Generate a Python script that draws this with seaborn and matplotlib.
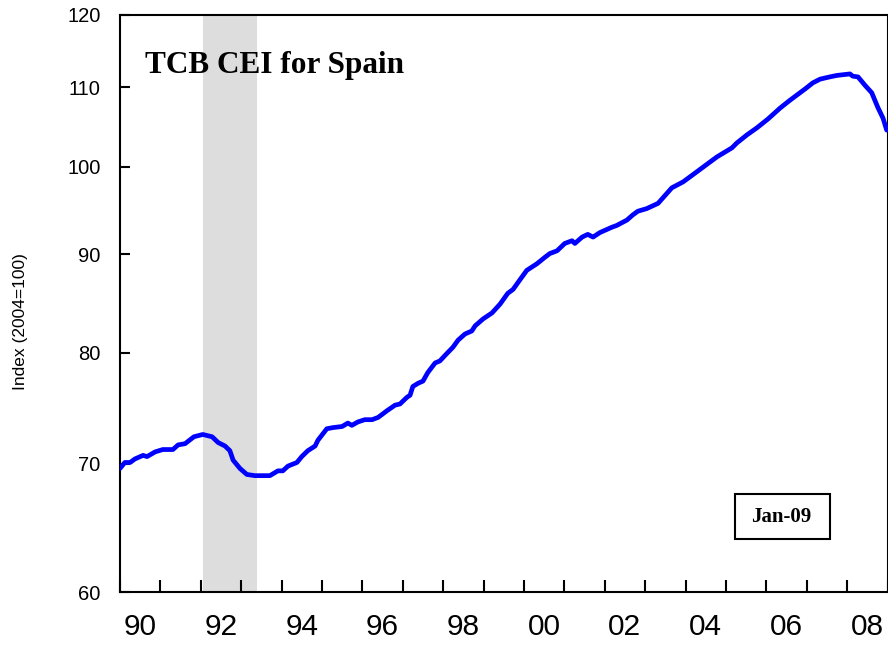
import matplotlib
matplotlib.use('Agg')
import matplotlib.pyplot as plt
import matplotlib.ticker as mticker
from matplotlib.patches import Rectangle
import pandas as pd
import seaborn as sns

# values (decimal year, index level)
years = [1990.00, 1990.12, 1990.25, 1990.37, 1990.57, 1990.67, 1990.87, 1991.06, 1991.31, 1991.44,
         1991.61, 1991.83, 1992.05, 1992.28, 1992.43, 1992.60, 1992.72, 1992.80, 1992.97, 1993.14,
         1993.34, 1993.71, 1993.91, 1994.03, 1994.16, 1994.38, 1994.50, 1994.65, 1994.83, 1994.90,
         1995.12, 1995.27, 1995.50, 1995.64, 1995.74, 1995.89, 1996.06, 1996.24, 1996.39, 1996.61,
         1996.81, 1996.93, 1997.10, 1997.18, 1997.25, 1997.38, 1997.50, 1997.62, 1997.80, 1997.92,
         1998.09, 1998.24, 1998.37, 1998.54, 1998.71, 1998.79, 1998.99, 1999.21, 1999.41, 1999.60,
         1999.73, 1999.90, 2000.07, 2000.32, 2000.52, 2000.64, 2000.82, 2001.01, 2001.19, 2001.26,
         2001.44, 2001.58, 2001.71, 2001.88, 2002.18, 2002.30, 2002.55, 2002.70, 2002.82, 2003.04,
         2003.32, 2003.66, 2003.94, 2004.28, 2004.53, 2004.78, 2005.15, 2005.27, 2005.52, 2005.77,
         2006.04, 2006.34, 2006.58, 2006.96, 2007.15, 2007.33, 2007.57, 2007.75, 2008.07, 2008.14,
         2008.27, 2008.44, 2008.61, 2008.76, 2008.89, 2008.98]
cei = [69.6, 70.1, 70.1, 70.4, 70.7, 70.6, 71.0, 71.2, 71.2, 71.6,
       71.7, 72.3, 72.5, 72.3, 71.8, 71.5, 71.1, 70.3, 69.6, 69.1,
       69.0, 69.0, 69.4, 69.4, 69.8, 70.1, 70.6, 71.1, 71.5, 72.0,
       73.0, 73.1, 73.2, 73.5, 73.3, 73.6, 73.8, 73.8, 74.0, 74.6,
       75.1, 75.2, 75.8, 76.0, 76.8, 77.1, 77.3, 78.1, 79.0, 79.2,
       79.9, 80.5, 81.2, 81.8, 82.1, 82.6, 83.3, 83.9, 84.8, 85.9,
       86.3, 87.3, 88.3, 89.0, 89.7, 90.1, 90.4, 91.2, 91.5, 91.2,
       91.9, 92.2, 91.9, 92.4, 93.0, 93.2, 93.8, 94.4, 94.8, 95.1,
       95.7, 97.5, 98.2, 99.4, 100.3, 101.2, 102.3, 102.9, 103.9, 104.8,
       105.9, 107.3, 108.3, 109.8, 110.6, 111.1, 111.4, 111.6, 111.8, 111.5,
       111.4, 110.3, 109.3, 107.4, 106.0, 104.5]

recession = (1992.05, 1993.38)
y_ticks = [60, 70, 80, 90, 100, 110, 120]
x_label_pos = [1990.5, 1992.5, 1994.5, 1996.5, 1998.5, 2000.5, 2002.5, 2004.5, 2006.5, 2008.5]
x_labels = ['90', '92', '94', '96', '98', '00', '02', '04', '06', '08']

df = pd.DataFrame({'year': years, 'cei': cei})

sns.set_style('white')
plt.rcParams['font.family'] = ['Liberation Sans', 'DejaVu Sans']
plt.rcParams['text.color'] = 'black'
plt.rcParams['xtick.color'] = 'black'
plt.rcParams['ytick.color'] = 'black'
plt.rcParams['axes.labelcolor'] = 'black'

fig = plt.figure(figsize=(8.88, 6.45), dpi=100)
ax = fig.add_axes([120 / 888, 1 - 592 / 645, 767.5 / 888, 577 / 645])

ax.axvspan(*recession, color='#dddddd', lw=0, zorder=0)
sns.lineplot(data=df, x='year', y='cei', color='#0000ff', lw=3.4, ax=ax, zorder=3)

ax.set_yscale('log')
ax.set_ylim(60, 120)
ax.set_xlim(1990, 2009)
ax.yaxis.set_major_locator(mticker.FixedLocator(y_ticks))
ax.yaxis.set_major_formatter(mticker.FixedFormatter([str(v) for v in y_ticks]))
ax.yaxis.set_minor_locator(mticker.NullLocator())

ax.xaxis.set_major_locator(mticker.FixedLocator(range(1990, 2010)))
ax.xaxis.set_major_formatter(mticker.NullFormatter())
ax.xaxis.set_minor_locator(mticker.FixedLocator(x_label_pos))
ax.xaxis.set_minor_formatter(mticker.FixedFormatter(x_labels))

ax.tick_params(axis='y', which='major', direction='in', length=7, width=1.5,
               labelsize=14.5, pad=14, left=True)
ax.tick_params(axis='x', which='major', direction='in', length=9, width=1.5, bottom=True)
ax.tick_params(axis='x', which='minor', length=0, labelsize=21.5, pad=15)

for s in ax.spines.values():
    s.set_visible(True)
    s.set_color('black')
    s.set_linewidth(1.5)

ax.set_xlabel('')
ax.set_ylabel('Index (2004=100)', fontsize=12.5, va='center')
ax.yaxis.set_label_coords(-0.130, 0.468)

ax.text(0.0326, 0.8995, 'TCB CEI for Spain', transform=ax.transAxes,
        fontsize=22.5, fontweight='bold', family=['Liberation Serif'],
        ha='left', va='baseline')

ax.add_patch(Rectangle((0.8008, 0.0919), 0.1237, 0.078, transform=ax.transAxes,
                       fill=False, ec='black', lw=1.5, zorder=5))
ax.text(0.862, 0.130, 'Jan-09', transform=ax.transAxes, fontsize=15,
        fontweight='bold', family=['Liberation Serif'], ha='center', va='center')

fig.savefig('out.png', dpi=100)
